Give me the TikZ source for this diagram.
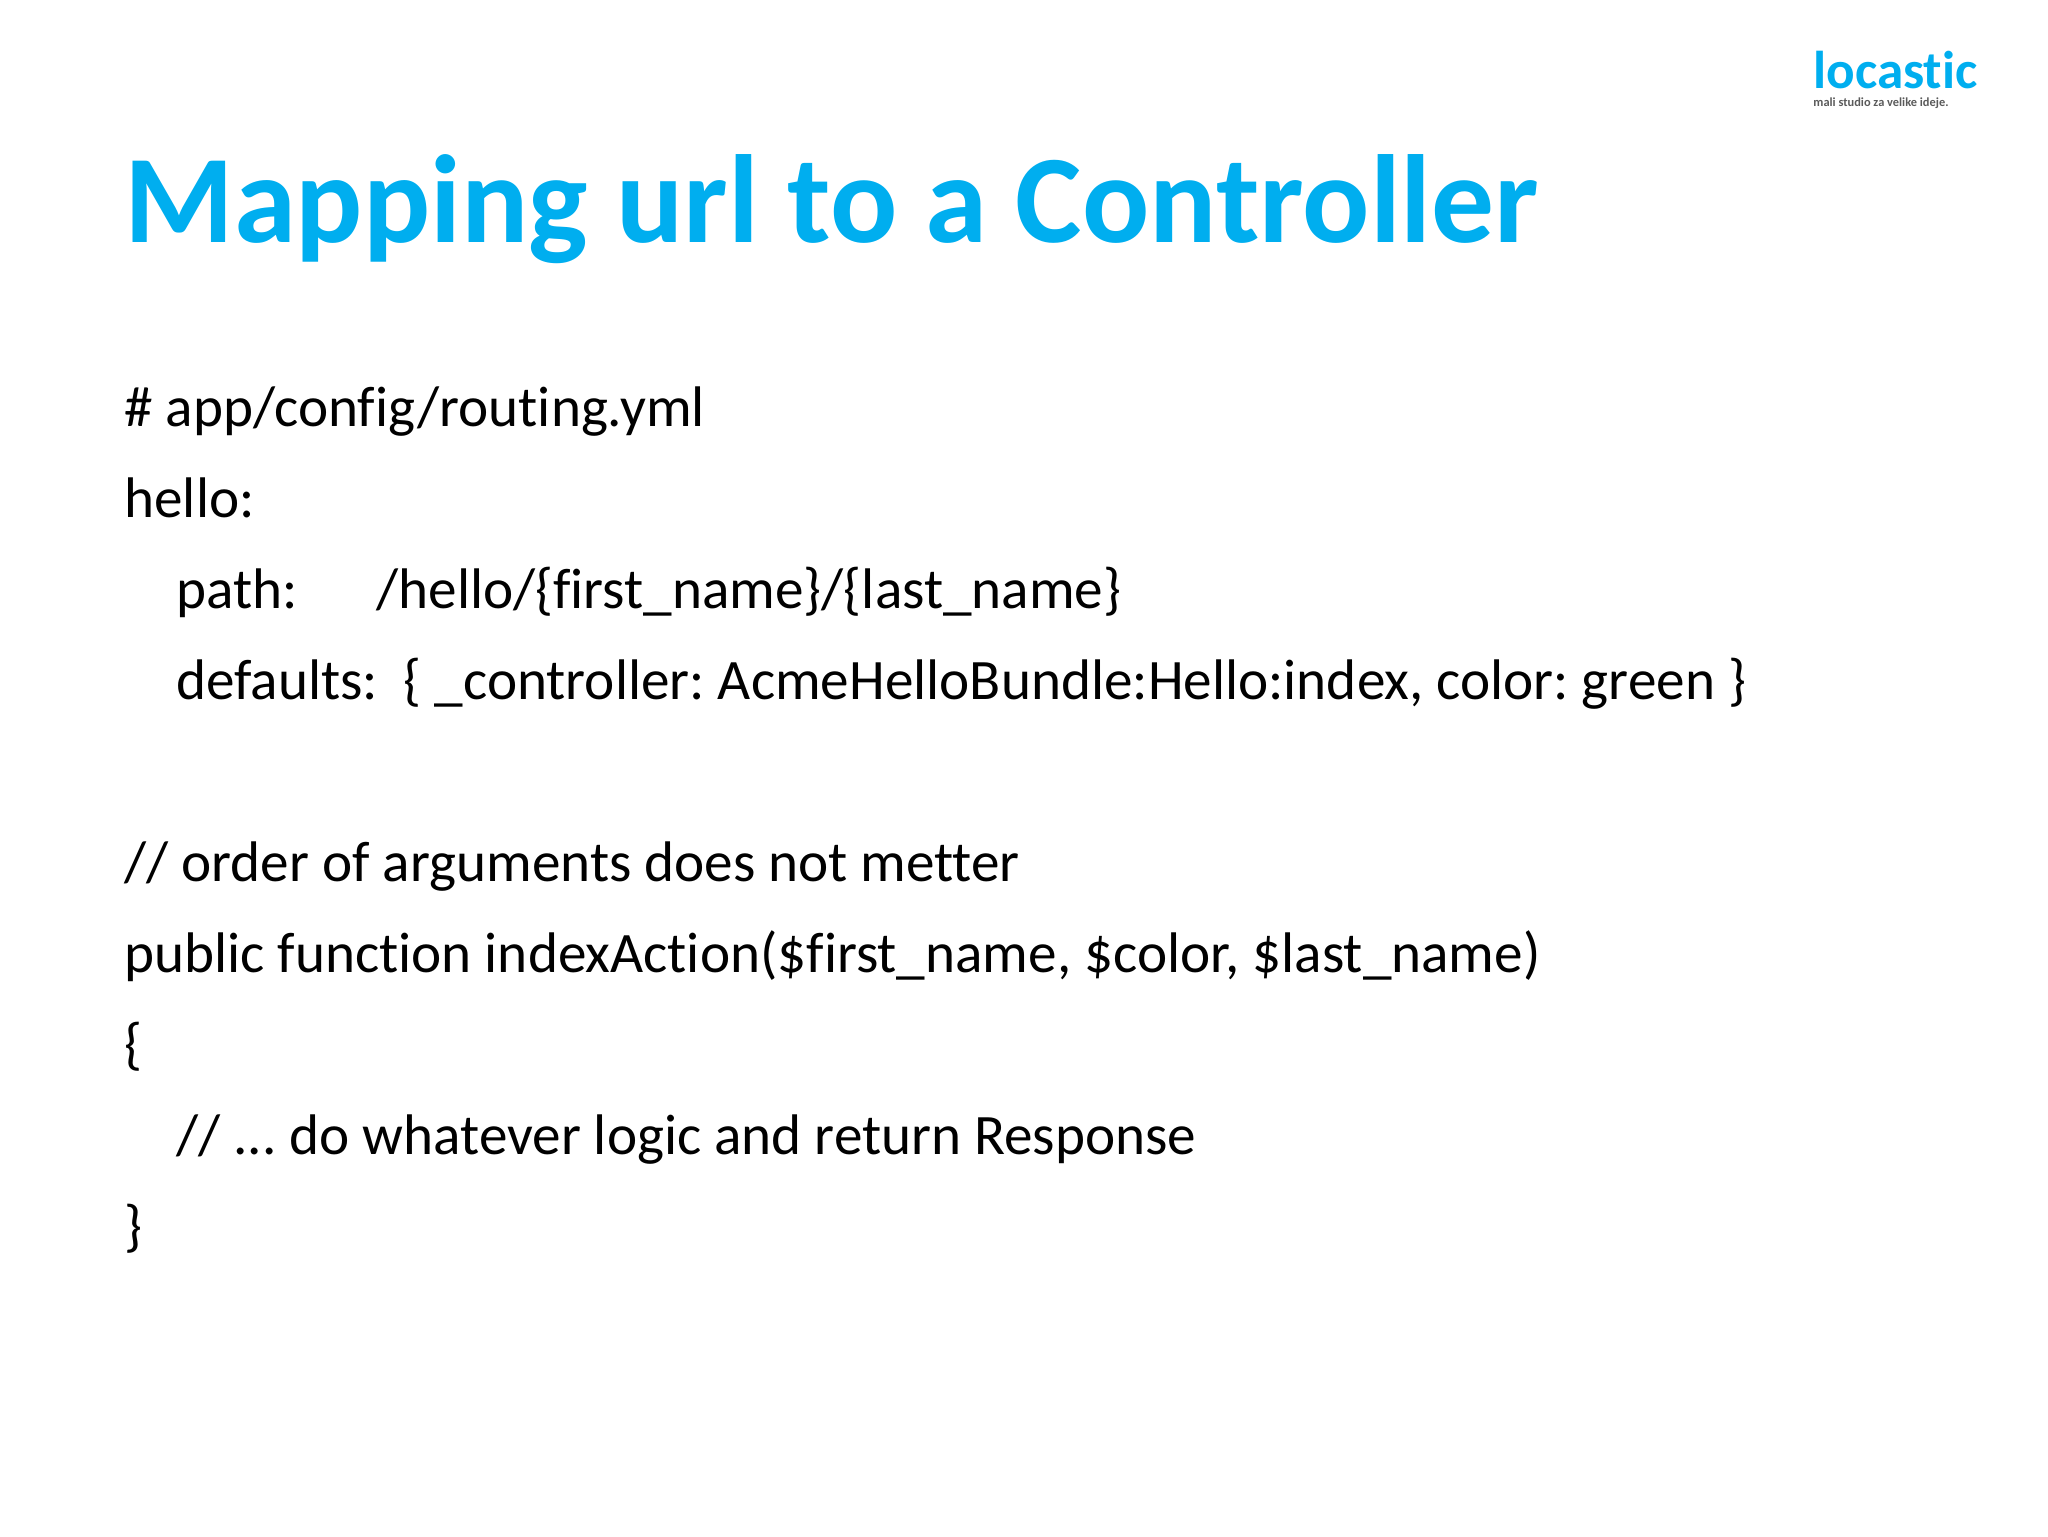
\documentclass[tikz,border=0pt]{standalone}
\usepackage{fontspec}
\setmainfont[Ligatures=NoCommon]{Carlito}
\usepackage{tikz}
\definecolor{locblue}{RGB}{0,174,239}
\definecolor{locgray}{RGB}{90,90,90}
\tikzset{codeline/.style={anchor=base west, inner sep=0pt, font=\fontsize{28.6}{28.6}\selectfont\frenchspacing}}

\begin{document}
\begin{tikzpicture}[x=1pt, y=-1pt]
    \useasboundingbox (0, 0) rectangle (1024, 768);

    \node[anchor=base west, inner sep=0pt, locblue, font=\fontsize{62.7}{62.7}\selectfont\bfseries] (title) at (62, 121) {Mapping url to a Controller};
    \node[anchor=base east, inner sep=0pt, locblue, font=\fontsize{26.6}{26.6}\selectfont\bfseries] (logo) at (989, 44.5) {locastic};
    \node[anchor=base west, inner sep=0pt, locgray, font=\fontsize{6.2}{6.2}\selectfont\bfseries] (slogan) at (906.5, 53) {mali studio za velike ideje.};

    \node[codeline] (l1) at (62, 213) {\# app/config/routing.yml};
    \node[codeline] (l2) at (62, 258.5) {hello:};
    \node[codeline] (l3) at (88, 304) {path:};
    \node[codeline] (l3b) at (188, 304) {/hello/\{first\_name\}/\{last\_name\}};
    \node[codeline] (l4) at (88, 349.5) {defaults:\ \ \{ \_controller: AcmeHelloBundle:Hello:index, color: green \}};
    \node[codeline] (l5) at (62, 440.5) {// order of arguments does not metter};
    \node[codeline] (l6) at (62, 486) {public function indexAction(\$first\_name, \$color, \$last\_name)};
    \node[codeline] (l7) at (62, 531.5) {\{};
    \node[codeline] (l8) at (88, 577) {// ... do whatever logic and return Response};
    \node[codeline] (l9) at (62, 622.5) {\}};
\end{tikzpicture}
\end{document}
